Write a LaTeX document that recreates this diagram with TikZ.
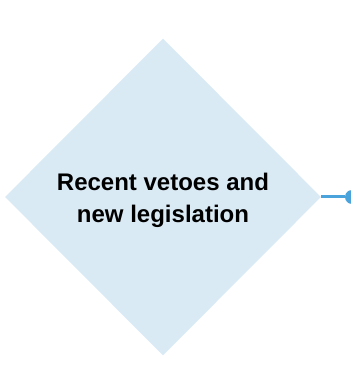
\documentclass[tikz,border=0pt]{standalone}
\usepackage{fontspec}
\setmainfont{Liberation Sans}
\usetikzlibrary{shapes.geometric}
\definecolor{dfill}{HTML}{DAEAF5}
\definecolor{lnk}{HTML}{4AA3DB}
\begin{document}
\begin{tikzpicture}[x=1pt,y=1pt,
  decision/.style={diamond,aspect=1,fill=dfill,draw=none,inner sep=0pt,
    minimum width=316pt,minimum height=317pt},
  label/.style={font=\bfseries\fontsize{24}{32}\selectfont,align=center,inner sep=0pt,anchor=base},
  endpt/.style={circle,fill=lnk,draw=none,inner sep=0pt,minimum size=14pt},
  link/.style={draw=lnk,line width=3pt}]
\useasboundingbox (0,0) rectangle (350,374);
\node[decision] (d) at (163,177) {};
\node[label] (t) at (163,151.5) {Recent vetoes and\\new legislation};
\node[endpt] (e) at (352,177) {};
\draw[link] (d.east) -- (e.west);
\end{tikzpicture}
\end{document}
